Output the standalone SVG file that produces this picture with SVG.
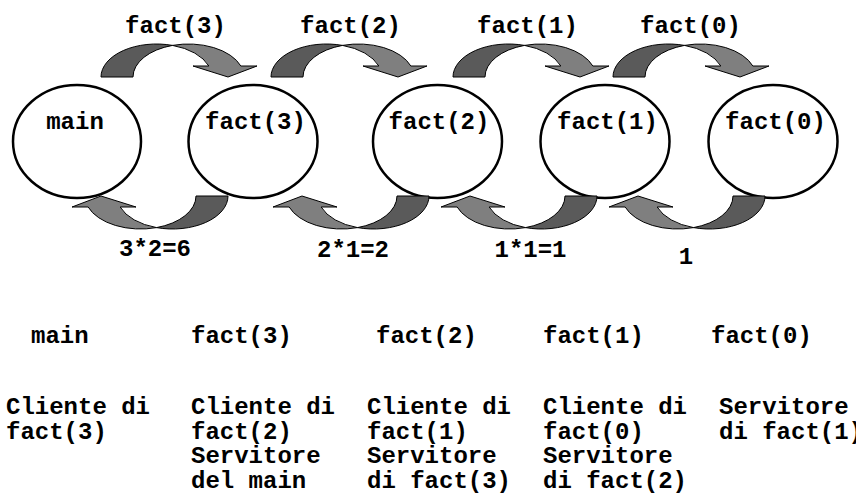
<svg xmlns="http://www.w3.org/2000/svg" xmlns:xlink="http://www.w3.org/1999/xlink" width="856" height="495" viewBox="0 0 856 495">
  <style>
    text { font-family: "Liberation Mono", "Courier New", monospace; font-weight: bold; font-size: 24px; fill: #000; }
    .mid { text-anchor: middle; }
    .node { fill: #fff; stroke: #000; stroke-width: 2.5; }
    .back { fill: #5a5a5a; stroke: #000; stroke-width: 1; stroke-linejoin: round; }
    .front { fill: #7f7f7f; stroke: #000; stroke-width: 1; stroke-linejoin: round; }
  </style>
  <defs>
    <g id="curvedArrow">
      <path class="back" d="M 0,33 A 55.5 33 0 0 1 71.5,1.4 A 55.5 33 0 0 0 32,33 Z"/>
      <path class="front" d="M 71.5,1.4 A 55.5 33 0 0 1 139.83,22 L 156,22 L 127,33 L 92,22 L 107.83,22 A 55.5 33 0 0 0 71.5,1.4 Z"/>
    </g>
  </defs>
  <rect width="856" height="495" fill="#fff"/>

  <g id="node-main">
    <ellipse class="node" cx="77" cy="141.5" rx="64" ry="56.5"/>
    <text class="mid" x="75" y="129">main</text>
  </g>
  <g id="node-fact3">
    <ellipse class="node" cx="253" cy="141.5" rx="64.5" ry="56.5"/>
    <text class="mid" x="255.5" y="129">fact(3)</text>
  </g>
  <g id="node-fact2">
    <ellipse class="node" cx="437.5" cy="141.5" rx="64.5" ry="56.5"/>
    <text class="mid" x="439" y="129">fact(2)</text>
  </g>
  <g id="node-fact1">
    <ellipse class="node" cx="605" cy="141.5" rx="64.5" ry="56.5"/>
    <text class="mid" x="607.5" y="129">fact(1)</text>
  </g>
  <g id="node-fact0">
    <ellipse class="node" cx="773" cy="141.5" rx="64.5" ry="56.5"/>
    <text class="mid" x="775.5" y="129">fact(0)</text>
  </g>

  <g id="connectors">
    <use xlink:href="#curvedArrow" transform="translate(101,44)"/>
    <use xlink:href="#curvedArrow" transform="translate(271,44)"/>
    <use xlink:href="#curvedArrow" transform="translate(453,44)"/>
    <use xlink:href="#curvedArrow" transform="translate(613,44)"/>
    <use xlink:href="#curvedArrow" transform="translate(228,229) rotate(180)"/>
    <use xlink:href="#curvedArrow" transform="translate(429,229) rotate(180)"/>
    <use xlink:href="#curvedArrow" transform="translate(597,229) rotate(180)"/>
    <use xlink:href="#curvedArrow" transform="translate(765,229) rotate(180)"/>
    <text class="mid" x="175.5" y="33">fact(3)</text>
    <text class="mid" x="350.5" y="33">fact(2)</text>
    <text class="mid" x="527.5" y="33">fact(1)</text>
    <text class="mid" x="690.5" y="33">fact(0)</text>
    <text class="mid" x="155" y="256">3*2=6</text>
    <text class="mid" x="353" y="257">2*1=2</text>
    <text class="mid" x="530.5" y="257">1*1=1</text>
    <text class="mid" x="686" y="264">1</text>
  </g>

  <g id="legend">
    <text x="31" y="343">main</text>
    <text x="191" y="343">fact(3)</text>
    <text x="376" y="343">fact(2)</text>
    <text x="543" y="343">fact(1)</text>
    <text x="711" y="343">fact(0)</text>

    <text x="6" y="414">Cliente di</text>
    <text x="6" y="438.5">fact(3)</text>

    <text x="191" y="414">Cliente di</text>
    <text x="191" y="438.5">fact(2)</text>
    <text x="191" y="463">Servitore</text>
    <text x="191" y="487.5">del main</text>

    <text x="367" y="414">Cliente di</text>
    <text x="367" y="438.5">fact(1)</text>
    <text x="367" y="463">Servitore</text>
    <text x="367" y="487.5">di fact(3)</text>

    <text x="543" y="414">Cliente di</text>
    <text x="543" y="438.5">fact(0)</text>
    <text x="543" y="463">Servitore</text>
    <text x="543" y="487.5">di fact(2)</text>

    <text x="719" y="414">Servitore</text>
    <text x="719" y="438.5">di fact(1)</text>
  </g>
</svg>
